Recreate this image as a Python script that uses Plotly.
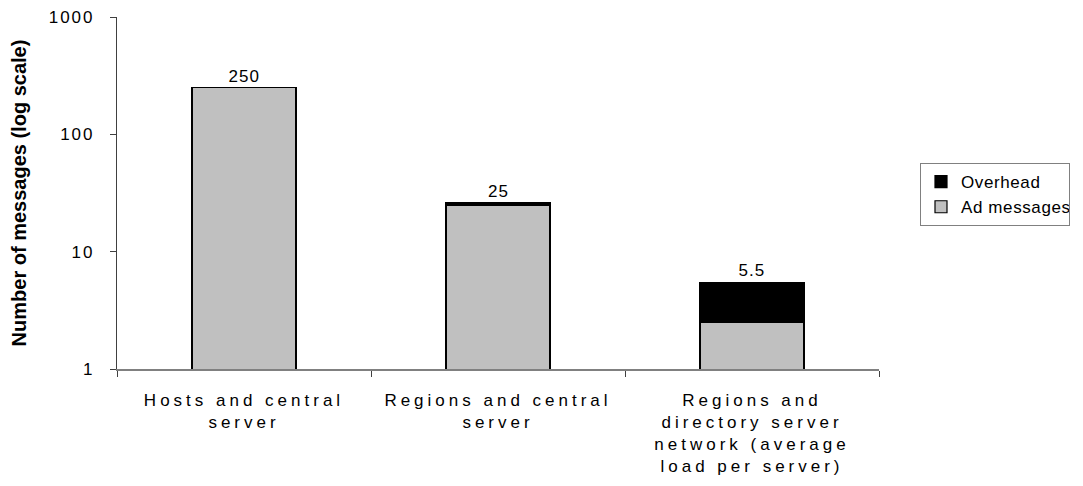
import math
import plotly.graph_objects as go

categories = ["Hosts and central<br>server",
              "Regions and central<br>server",
              "Regions and<br>directory server<br>network (average<br>load per server)"]
ad_messages = [250, 25, 2.5]
overhead = [None, 1, 3]
bar_labels = ["250", "25", "5.5"]
y_ticks = [1, 10, 100, 1000]

FONT = "Liberation Sans, Arial, sans-serif"

fig = go.Figure()
fig.add_trace(go.Bar(x=categories, y=ad_messages, name="Ad messages",
                     marker=dict(color="#C0C0C0", line=dict(color="black", width=1.2)),
                     width=0.41))
fig.add_trace(go.Bar(x=categories, y=overhead, name="Overhead",
                     marker=dict(color="black", line=dict(color="black", width=1.2)),
                     width=0.41))

totals = [a + (o or 0) for a, o in zip(ad_messages, overhead)]
for c, t, lab in zip(categories, totals, bar_labels):
    fig.add_annotation(x=c, y=math.log10(t), text=lab, showarrow=False,
                       yanchor="bottom", yshift=0,
                       font=dict(family=FONT, size=17, color="black"))

fig.update_layout(
    width=1083, height=486,
    barmode="stack",
    plot_bgcolor="white", paper_bgcolor="white",
    margin=dict(l=117, r=204, t=17, b=117, autoexpand=False),
    font=dict(family=FONT, size=17, color="black"),
    legend=dict(x=1.0538, y=0.585, xanchor="left", yanchor="top",
                traceorder="reversed", bordercolor="#808080", borderwidth=1,
                font=dict(family=FONT, size=17, color="black"),
                itemwidth=30, tracegroupgap=0),
    showlegend=True,
)
fig.update_xaxes(showline=True, linecolor="#808080", linewidth=1.5,
                 ticks="outside", tickson="boundaries", ticklen=6, tickcolor="#404040",
                 tickfont=dict(family=FONT, size=17), showgrid=False,
                 automargin=False, ticklabelstandoff=15)
fig.update_yaxes(type="log", range=[0, 3], tickvals=y_ticks,
                 ticktext=[str(v) for v in y_ticks],
                 showline=True, linecolor="#404040", linewidth=1.2,
                 ticks="outside", ticklen=6, tickcolor="#404040",
                 tickfont=dict(family=FONT, size=17), showgrid=False, zeroline=False,
                 automargin=False, ticklabelstandoff=12,
                 title=dict(text="<b>Number of messages (log scale)</b>",
                            font=dict(family=FONT, size=20), standoff=24))

post = """
document.body.style.margin='0';
function sp(){
 document.querySelectorAll('.xtick text').forEach(function(e){e.style.letterSpacing='4px';});
 document.querySelectorAll('.ytick text').forEach(function(e){e.style.letterSpacing='2px';});
 document.querySelectorAll('.legendtext').forEach(function(e){e.style.letterSpacing='0.6px';});
 document.querySelectorAll('.annotation-text').forEach(function(e){e.style.letterSpacing='1px';});
}
sp();
var gd=document.getElementById('{plot_id}');
gd.on('plotly_afterplot', sp);
"""
fig.write_html("out.html", post_script=post, config={"displayModeBar": False})
